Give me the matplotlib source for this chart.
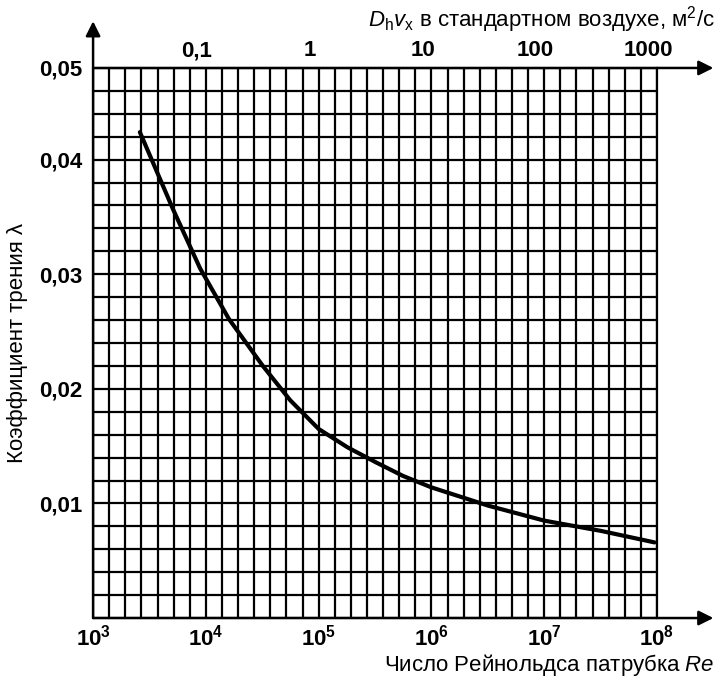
import numpy as np
import matplotlib.pyplot as plt
from matplotlib.ticker import FixedLocator, NullFormatter

plt.rcParams['font.family'] = ['Liberation Sans', 'DejaVu Sans']
plt.rcParams['mathtext.fontset'] = 'custom'
plt.rcParams['mathtext.rm'] = 'Liberation Sans'
plt.rcParams['mathtext.it'] = 'Liberation Sans:italic'
plt.rcParams['mathtext.bf'] = 'Liberation Sans:bold'

# curve: Reynolds number and friction factor
re_values = [2.6e3, 5.1e3, 8.9e3, 1.6e4, 3.2e4, 5.6e4, 1.0e5, 1.8e5,
             3.2e5, 5.6e5, 1.0e6, 3.2e6, 1.0e7, 3.2e7, 9.5e7]
friction = [0.0424, 0.0357, 0.0305, 0.0261, 0.0220, 0.0190, 0.0165, 0.0149,
            0.0136, 0.0124, 0.0114, 0.0098, 0.0085, 0.0076, 0.0066]

# bottom axis
re_ticks = [1e3, 1e4, 1e5, 1e6, 1e7, 1e8]
re_labels = [r'$\mathbf{10^{%d}}$' % p for p in range(3, 9)]

# left axis (top line of the grid is labelled 0,05 in the original)
lam_ticks = [0.01, 0.02, 0.03, 0.04, 0.048]
lam_labels = ['0,01', '0,02', '0,03', '0,04', '0,05']

# top axis: D_h * v_x in standard air
top_ticks = [0.1, 1, 10, 100, 1000]
top_labels = ['0,1', '1', '10', '100', '1000']
nu = 1.2e-5

fig = plt.figure(figsize=(7.16, 6.77), dpi=100)
ax = fig.add_axes([0.130, 0.0871, 0.7876, 0.8125])

ax.plot(re_values, friction, color='black', lw=3, solid_capstyle='round')

ax.set_xscale('log')
ax.set_xlim(1e3, 1e8)
ax.set_ylim(0, 0.048)

# uniform grid: 7 columns per decade, rows every 0.002
ax.xaxis.remove_overlapping_locs = False
ax.yaxis.remove_overlapping_locs = False
ax.xaxis.set_minor_locator(FixedLocator(10 ** (3 + np.arange(36) / 7)))
ax.xaxis.set_minor_formatter(NullFormatter())
ax.yaxis.set_minor_locator(FixedLocator(np.arange(0, 0.0481, 0.002)))
ax.grid(which='minor', color='black', lw=1.6)
ax.grid(which='major', visible=False)

ax.set_xticks(re_ticks)
ax.set_xticklabels(re_labels, fontsize=16)
ax.set_yticks(lam_ticks)
ax.set_yticklabels(lam_labels, fontsize=16, fontweight='bold')
ax.tick_params(which='both', length=0)
ax.tick_params(axis='x', pad=5)
ax.tick_params(axis='y', pad=8)

for s in ax.spines.values():
    s.set_linewidth(1.6)
ax.spines['top'].set_visible(False)
ax.spines['left'].set_visible(False)
ax.spines['bottom'].set_visible(False)

secax = ax.secondary_xaxis('top', functions=(lambda r: r * nu, lambda v: v / nu))
secax.set_xticks(top_ticks)
secax.set_xticklabels(top_labels, fontsize=16, fontweight='bold')
secax.xaxis.set_minor_locator(FixedLocator([]))
secax.tick_params(which='both', length=0, pad=5)
secax.spines['top'].set_visible(False)

# axis lines with arrows
arrow = dict(arrowstyle='-|>', color='black', lw=1.8, mutation_scale=22, shrinkA=0, shrinkB=0)
ax.annotate('', xy=(1.10, 0), xytext=(0, 0), xycoords='axes fraction', arrowprops=arrow)
ax.annotate('', xy=(1.10, 1), xytext=(0, 1), xycoords='axes fraction', arrowprops=arrow)
ax.annotate('', xy=(0, 1.085), xytext=(0, 0), xycoords='axes fraction', arrowprops=arrow)

ax.set_ylabel('Коэффициент трения λ', fontsize=16, labelpad=8)
fig.text(0.998, 1 - 665 / 677, 'Число Рейнольдса патрубка $Re$', fontsize=16,
         ha='right', va='center')
fig.text(0.998, 1 - 20 / 677, r'$D_\mathrm{h}v_\mathrm{x}$ в стандартном воздухе, м$^2$/с',
         fontsize=16, ha='right', va='center')

fig.savefig('out.png', dpi=100)
